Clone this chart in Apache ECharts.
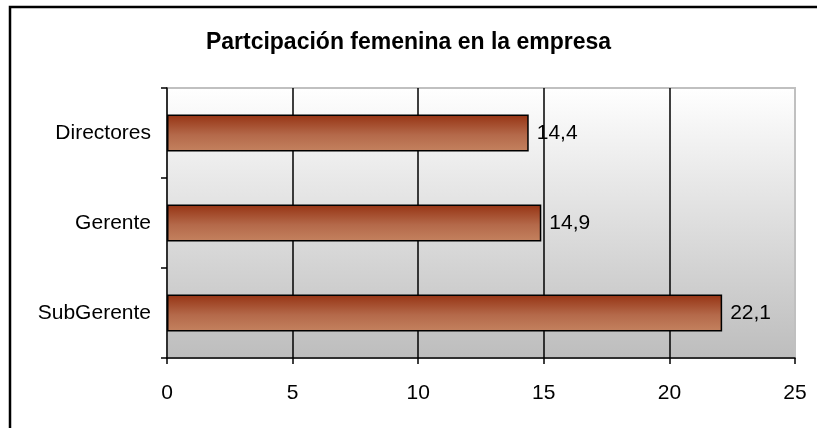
<!DOCTYPE html>
<html>
<head>
<meta charset="utf-8">
<script src="https://cdn.jsdelivr.net/npm/echarts@6/dist/echarts.min.js"></script>
<style>
  html, body { margin: 0; padding: 0; background: #fff; }
  #chart { width: 817px; height: 428px; }
</style>
</head>
<body>
<div id="chart"></div>
<script>
const categories = ['Directores', 'Gerente', 'SubGerente']
const values = [14.4, 14.9, 22.1]
const titleText = 'Partcipación femenina en la empresa'

const fontFamily = 'Liberation Sans, Arial, sans-serif'

const chart = echarts.init(document.getElementById('chart'))

const option = {
  animation: false,
  backgroundColor: '#fff',
  title: {
    text: titleText,
    left: 'center',
    top: 26,
    textStyle: {
      fontFamily,
      fontSize: 23,
      fontWeight: 'bold',
      color: '#000'
    }
  },
  graphic: [
    {
      type: 'rect',
      shape: { x: 10, y: 7, width: 900, height: 500 },
      style: { fill: 'none', stroke: '#000', lineWidth: 2.5 },
      silent: true
    }
  ],
  grid: {
    left: 167,
    right: 22,
    top: 88,
    bottom: 70,
    show: true,
    borderColor: '#c0c0c0',
    borderWidth: 2,
    backgroundColor: new echarts.graphic.LinearGradient(0, 0, 0, 1, [
      { offset: 0, color: '#ffffff' },
      { offset: 1, color: '#bdbdbd' }
    ])
  },
  xAxis: {
    type: 'value',
    min: 0,
    max: 25,
    interval: 5,
    axisLine: { show: true, lineStyle: { color: '#000', width: 1.5 } },
    axisTick: { show: true, length: 6, lineStyle: { color: '#000', width: 1.5 } },
    axisLabel: {
      margin: 25,
      fontFamily,
      fontSize: 21,
      color: '#000'
    },
    splitLine: {
      show: true,
      showMinLine: false,
      showMaxLine: false,
      lineStyle: { color: '#000', width: 1.5 }
    }
  },
  yAxis: {
    type: 'category',
    data: categories,
    inverse: true,
    axisLine: { show: true, lineStyle: { color: '#000', width: 1.5 } },
    axisTick: { show: true, length: 6, lineStyle: { color: '#000', width: 1.5 } },
    axisLabel: {
      margin: 16,
      fontFamily,
      fontSize: 21,
      color: '#000'
    }
  },
  series: [
    {
      type: 'bar',
      data: values,
      barWidth: '41%',
      itemStyle: {
        color: new echarts.graphic.LinearGradient(0, 0, 0, 1, [
          { offset: 0, color: '#963313' },
          { offset: 0.55, color: '#b4694a' },
          { offset: 1, color: '#c4825f' }
        ]),
        borderColor: '#000',
        borderWidth: 1.5
      },
      label: {
        show: true,
        position: 'right',
        distance: 8,
        fontFamily,
        fontSize: 21,
        color: '#000',
        formatter: (p) => String(p.value).replace('.', ',')
      }
    }
  ]
}

chart.setOption(option)
</script>
</body>
</html>
